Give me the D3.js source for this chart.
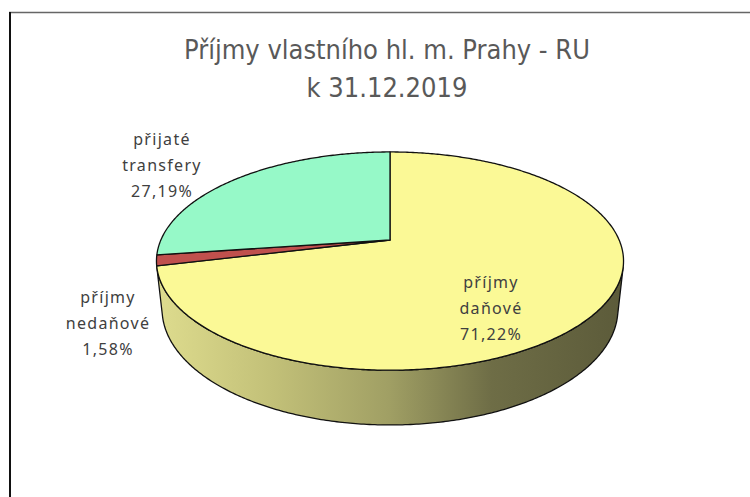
<!DOCTYPE html>
<html>
<head>
<meta charset="utf-8">
<script src="https://cdn.jsdelivr.net/npm/d3@7"></script>
<style>
  body { margin: 0; background: #fff; }
  svg { display: block; }
</style>
</head>
<body>
<div id="chart"></div>
<script>
const width = 750;
const height = 497;

// data
const categories = ["příjmy daňové", "příjmy nedaňové", "přijaté transfery"];
const shares = [71.22, 1.58, 27.19];
const labelLines = [["příjmy", "daňové"], ["příjmy", "nedaňové"], ["přijaté", "transfery"]];
const titleLines = ["Příjmy vlastního hl. m. Prahy - RU", "k 31.12.2019"];

const topColors = ["#fbf996", "#c0504d", "#96f9c8"];
// label anchors (centre x, first baseline)
const labelPos = [[491, 288], [108, 303], [162, 145]];

const svg = d3.select("#chart").append("svg")
    .attr("width", width).attr("height", height);

// frame, cut off at right and bottom like the original
svg.append("line").attr("x1", 9).attr("x2", width).attr("y1", 12.5).attr("y2", 12.5)
    .attr("stroke", "#666").attr("stroke-width", 1.5);
svg.append("line").attr("x1", 10).attr("x2", 10).attr("y1", 12).attr("y2", height)
    .attr("stroke", "#111").attr("stroke-width", 2);

// title
svg.append("g").selectAll("text")
    .data(titleLines)
    .join("text")
    .attr("x", 387)
    .attr("y", (d, i) => 59 + i * 38)
    .attr("text-anchor", "middle")
    .attr("fill", "#595959")
    .style("font-family", "'Liberation Sans Narrow', 'DejaVu Sans Condensed', sans-serif")
    .style("font-size", "27px")
    .text(d => d);

// simple perspective camera for the 3d pie
const cx = 390, cy = 240;
const D = 4.6, sinE = 0.4585, cosE = Math.sqrt(1 - sinE * sinE);
const K = 1054, H = 0.2385;

function proj(a, r, z) {
    const x = r * Math.sin(a), y = -r * Math.cos(a);
    const depth = D - y * cosE - z * sinE;
    return [cx + K * x / depth, cy + K * (y * sinE - z * cosE) / depth];
}

function rim(a0, a1, z) {
    const n = Math.max(2, Math.ceil(Math.abs(a1 - a0) / 0.01));
    return d3.range(n + 1).map(i => proj(a0 + (a1 - a0) * i / n, 1, z));
}

const pie = d3.pie().sort(null).value(d => d);
const arcs = pie(shares);

const defs = svg.append("defs");
const grad = defs.append("linearGradient").attr("id", "side")
    .attr("gradientUnits", "userSpaceOnUse")
    .attr("x1", 157).attr("x2", 622).attr("y1", 0).attr("y2", 0);
grad.selectAll("stop")
    .data([[0, "#dedc8e"], [0.25, "#c2c078"], [0.5, "#a09f64"], [0.72, "#6e6d46"], [1, "#5c5b3a"]])
    .join("stop")
    .attr("offset", d => d[0])
    .attr("stop-color", d => d[1]);

// outer wall: only the part that faces the camera
const visMin = Math.acos(-1 / (D * cosE));
const visMax = 2 * Math.PI - visMin;
const line = d3.line().curve(d3.curveLinearClosed);

const walls = arcs.map(d => {
    const a0 = Math.max(d.startAngle, visMin), a1 = Math.min(d.endAngle, visMax);
    return a1 > a0 ? rim(a0, a1, 0).concat(rim(a1, a0, -H)) : null;
}).filter(p => p);

svg.append("g").selectAll("path")
    .data(walls)
    .join("path")
    .attr("d", line)
    .attr("fill", "url(#side)")
    .attr("stroke", "#111")
    .attr("stroke-width", 1.3)
    .attr("stroke-linejoin", "round");

// top faces
svg.append("g").selectAll("path")
    .data(arcs)
    .join("path")
    .attr("d", d => line([proj(0, 0, 0)].concat(rim(d.startAngle, d.endAngle, 0))))
    .attr("fill", (d, i) => topColors[i])
    .attr("stroke", "#111")
    .attr("stroke-width", 1.3)
    .attr("stroke-linejoin", "round");

// data labels
const fmt = v => d3.format(".2f")(v).replace(".", ",") + "%";
const labels = svg.append("g")
    .style("font-family", "'Noto Sans', sans-serif")
    .style("font-size", "16px")
    .style("letter-spacing", "1.3px")
    .attr("fill", "#404040")
    .attr("text-anchor", "middle");

labels.selectAll("text")
    .data(arcs.flatMap((d, i) => labelLines[i].concat([fmt(shares[i])])
        .map((t, j) => ({ t, x: labelPos[i][0], y: labelPos[i][1] + j * 26 }))))
    .join("text")
    .attr("x", d => d.x)
    .attr("y", d => d.y)
    .text(d => d.t);
</script>
</body>
</html>
